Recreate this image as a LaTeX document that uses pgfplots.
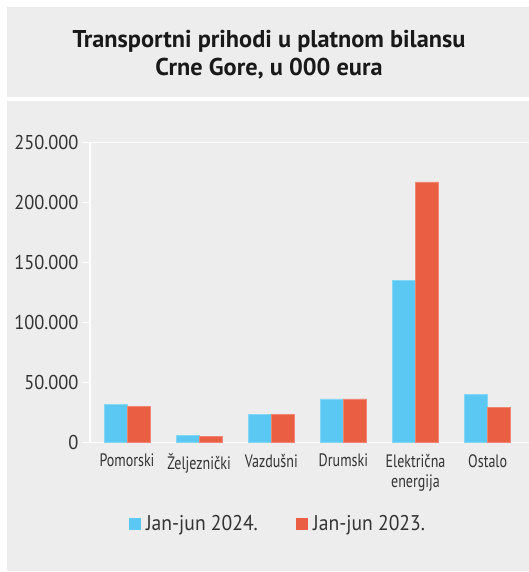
\documentclass[border=0pt]{standalone}
\usepackage{fontspec}
\setmainfont{PT Sans}
\newfontfamily\condfont[FakeStretch=0.78]{PT Sans}
\newfontfamily\numfont[FakeStretch=0.92]{PT Sans}
\usepackage{pgfplots}
\pgfplotsset{compat=1.18}
\usepackage{pgfplotstable}
\definecolor{panel}{HTML}{EDEDED}
\definecolor{blue24}{HTML}{5BC8F4}
\definecolor{red23}{HTML}{EA5E44}
\definecolor{txt}{HTML}{333333}

% Transportni prihodi, u 000 eura
\pgfplotstableread{
x v24 v23
0 32000 30000
1 6000 5000
2 23500 23500
3 36500 36500
4 135000 217000
5 40500 29500
}\prihodi

\begin{document}
\begin{tikzpicture}[x=1pt,y=1pt]
  \useasboundingbox (0,0) rectangle (529,572);
  \fill[white] (0,0) rectangle (529,572);
  \fill[panel] (7,475) rectangle (529,565);
  \fill[panel] (7,1) rectangle (529,471);
  \node[anchor=base, font=\fontsize{24.3}{28}\selectfont\bfseries, text=black!90] at (269,524) {Transportni prihodi u platnom bilansu};
  \node[anchor=base, font=\fontsize{24.3}{28}\selectfont\bfseries, text=black!90] at (269,496) {Crne Gore, u 000 eura};

  \begin{axis}[
      at={(90pt,129.3pt)}, anchor=south west,
      scale only axis, width=439pt, height=300.4pt,
      xmin=-0.513, xmax=5.573, ymin=0, ymax=250000,
      ybar, bar width=23pt,
      axis x line*=bottom, axis y line*=left,
      axis line style={white, line width=1.5pt, -},
      ytick={0,50000,100000,150000,200000,250000},
      yticklabels={0, 50.000, 100.000, 150.000, 200.000, 250.000},
      scaled y ticks=false,
      tick align=outside, major tick length=8pt,
      ytick style={white, line width=1.5pt},
      xtick style={draw=none},
      xtick={0,1,2,3,4,5},
      xticklabels={Pomorski, Željeznički, Vazdušni, Drumski, {Električna\\energija}, Ostalo},
      xticklabel style={font=\condfont\fontsize{18}{20}\selectfont, text=txt, align=center},
      yticklabel style={font=\numfont\fontsize{20}{20}\selectfont, text=txt},
      legend columns=2,
      legend style={draw=none, fill=none, at={(0.428,-0.27)}, anchor=center,
        font=\numfont\fontsize{21.3}{22}\selectfont, text=txt,
        /tikz/every even column/.append style={column sep=36pt}},
      legend image code/.code={\fill[#1,draw=none] (0pt,-6pt) rectangle (12pt,6pt); \path (15pt,0pt);},
    ]
    \addplot[fill=blue24, draw=blue24!75!white, line width=0.6pt, bar shift=-11.5pt]
      table[x=x, y=v24] {\prihodi};
    \addlegendentry{Jan-jun 2024.}
    \addplot[fill=red23, draw=red23!75!white, line width=0.6pt, bar shift=11.5pt]
      table[x=x, y=v23] {\prihodi};
    \addlegendentry{Jan-jun 2023.}
    \draw[white, line width=1.5pt] (rel axis cs:0,1) -- (rel axis cs:1,1);
  \end{axis}
\end{tikzpicture}
\end{document}
